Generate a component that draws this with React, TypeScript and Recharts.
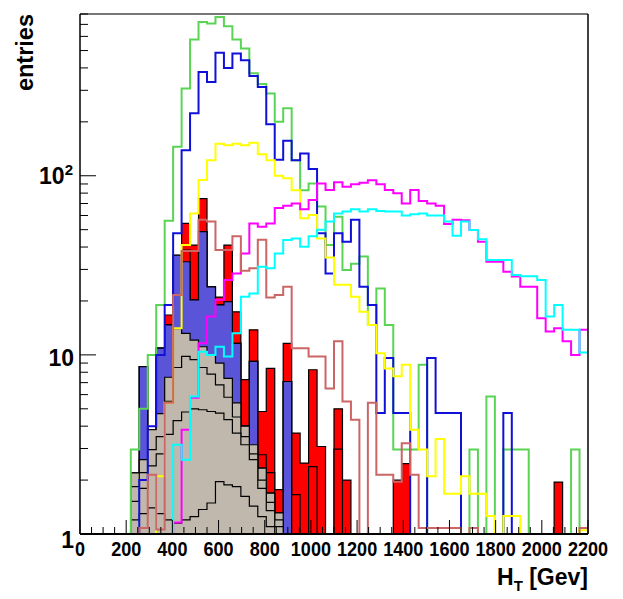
import { ComposedChart, Area, Line, XAxis, YAxis, ReferenceLine } from "recharts"

// 60 bins of 2200/60 GeV between 0 and 2200
const BIN_COUNT = 60
const X_MAX = 2200
const binWidth = X_MAX / BIN_COUNT

// stacked, filled histograms: cumulative levels (top level first)
const redTop = [0, 0, 0, 0, 0, 0, 2.19, 8.6, 3.82, 10.9, 16.7, 36, 54.2, 41, 74.6, 24, 21, 41, 17.4, 7.27, 13.8, 4.83, 8.4, 1.77, 11.6, 3.66, 2.49, 8.26, 3.08, 0, 5.0, 2.0, 0, 0, 0, 0, 0, 2.0, 2.47, 0, 0, 0, 0, 0, 0, 0, 0, 0, 0, 0, 0, 0, 0, 0, 0, 0, 1.95, 0, 0, 0]
const redMid = [0, 0, 0, 0, 0, 0, 2.19, 8.6, 3.82, 10.9, 14.7, 36, 38.5, 20.3, 48.8, 24, 19, 19.8, 11.6, 4.0, 9.2, 2.77, 2.2, 1.31, 7.1, 1.66, 0, 2.38, 0, 0, 2.98, 0, 0, 0, 0, 0, 0, 0, 0, 0, 0, 0, 0, 0, 0, 0, 0, 0, 0, 0, 0, 0, 0, 0, 0, 0, 0, 0, 0, 0]
const blueTop = [0, 0, 0, 0, 0, 0, 2.19, 8.6, 3.82, 10.9, 14.7, 36, 33.1, 20.3, 48.8, 24, 19, 19.8, 11.6, 4.0, 9.2, 2.33, 1.69, 1.31, 7.1, 0, 0, 0, 0, 0, 0, 0, 0, 0, 0, 0, 0, 0, 0, 0, 0, 0, 0, 0, 0, 0, 0, 0, 0, 0, 0, 0, 0, 0, 0, 0, 0, 0, 0, 0]
const beigeA = [0, 0, 0, 0, 0, 0, 2.19, 2.6, 3.82, 4.7, 7.5, 14, 13.2, 12.1, 11.1, 10, 9.0, 7.4, 5.4, 4.0, 3.15, 2.33, 1.69, 1.31, 0, 0, 0, 0, 0, 0, 0, 0, 0, 0, 0, 0, 0, 0, 0, 0, 0, 0, 0, 0, 0, 0, 0, 0, 0, 0, 0, 0, 0, 0, 0, 0, 0, 0, 0, 0]
const beigeB = [0, 0, 0, 0, 0, 0, 1.84, 2.2, 2.96, 3.5, 5.5, 8.5, 9.8, 9.4, 8.5, 7.8, 6.8, 5.8, 4.5, 3.5, 2.8, 2.0, 1.5, 1.2, 0, 0, 0, 0, 0, 0, 0, 0, 0, 0, 0, 0, 0, 0, 0, 0, 0, 0, 0, 0, 0, 0, 0, 0, 0, 0, 0, 0, 0, 0, 0, 0, 0, 0, 0, 0]
const beigeC = [0, 0, 0, 0, 0, 0, 1.52, 1.8, 2.4, 2.8, 3.6, 4.3, 4.8, 5.0, 4.94, 4.83, 4.73, 4.35, 3.66, 3.15, 2.6, 1.8, 1.35, 1.1, 0, 0, 0, 0, 0, 0, 0, 0, 0, 0, 0, 0, 0, 0, 0, 0, 0, 0, 0, 0, 0, 0, 0, 0, 0, 0, 0, 0, 0, 0, 0, 0, 0, 0, 0, 0]
const beigeD = [0, 0, 0, 0, 0, 0, 1.2, 1.3, 1.4, 1.3, 1.2, 1.15, 1.2, 1.25, 1.37, 1.49, 1.96, 1.88, 1.84, 1.62, 1.43, 1.25, 1.1, 0, 0, 0, 0, 0, 0, 0, 0, 0, 0, 0, 0, 0, 0, 0, 0, 0, 0, 0, 0, 0, 0, 0, 0, 0, 0, 0, 0, 0, 0, 0, 0, 0, 0, 0, 0, 0]

// line histograms
const green = [0, 0, 0, 0, 0, 0, 2.96, 5, 10, 19, 56, 145, 307, 576, 722, 709, 770, 684, 576, 514, 373, 325, 288, 200, 238, 122, 83, 90.6, 67.4, 41, 59, 29.8, 32.3, 35.4, 14.7, 23.5, 14.7, 2.96, 2.96, 2.96, 8.8, 0, 0, 0, 0, 0, 2.96, 0, 5.86, 0, 2.96, 2.96, 2.96, 0, 0, 0, 0, 0, 2.96, 0]
const blue = [0, 0, 0, 0, 0, 0, 0, 2, 4, 10, 19, 47.7, 139, 223, 380, 334, 486, 400, 482, 442, 361, 313, 194, 123, 157, 122, 133, 109, 47.7, 28.5, 47.7, 42.8, 56.9, 24, 19, 4.73, 9.6, 4.73, 4.73, 0, 0, 9.6, 4.73, 4.73, 4.73, 0, 0, 0, 0, 0, 4.73, 0, 0, 0, 0, 0, 0, 0, 0, 0]
const yellow = [0, 0, 0, 0, 0, 0, 0, 0, 0, 2.1, 5.4, 14.1, 41, 61.6, 94.6, 122, 151, 148, 151, 148, 153, 132, 122, 100, 97, 83, 58, 60.3, 44.7, 35, 24.6, 24.6, 21.1, 17.4, 14.7, 10.2, 8.4, 7.6, 8.8, 3.82, 2.96, 2.1, 3.39, 1.68, 1.68, 2.1, 1.68, 1.68, 1.26, 0, 1.26, 1.26, 0, 0, 0, 0, 0, 0, 0, 1.05]
const magenta = [0, 0, 0, 0, 0, 0, 0, 0, 0, 0, 0, 1.16, 3.82, 5.76, 11.6, 16.4, 20.3, 26.2, 28.5, 36.8, 54.2, 51.9, 54.2, 66, 68, 70.1, 65, 73.2, 90.6, 83.2, 91.9, 86.8, 89.6, 91.5, 94.4, 89.6, 83.2, 79.9, 70.1, 83.2, 72.2, 70.1, 68.1, 53.8, 56.9, 56.4, 49.8, 42.8, 33.1, 33.1, 29.1, 27.4, 24, 24, 16, 13.5, 14.1, 11.9, 10, 13.8]
const cyan = [0, 0, 0, 0, 0, 0, 0, 0, 0, 0, 0, 3.15, 2.6, 5.85, 10.4, 10, 11.1, 9.8, 13.2, 21.1, 22, 31, 30.5, 36.8, 43.8, 44.7, 40.2, 45.9, 50, 55.5, 61.6, 63.1, 65.1, 63.1, 65.1, 63.6, 63.1, 63.1, 60, 61, 61.6, 60, 60, 55.5, 46.3, 55.5, 49.8, 44.2, 33.9, 33.9, 33.9, 27.9, 27.5, 27.5, 26.2, 16.4, 19, 13.8, 13.8, 10.3]
const brown = [0, 0, 0, 0, 0, 0, 0, 1.08, 2.14, 1.06, 5.4, 21.6, 38, 38, 56.9, 55.5, 38.5, 38.5, 45.9, 29.5, 30.5, 44, 20.9, 21.6, 24, 10.9, 10.9, 9.8, 9.8, 6.5, 11.9, 5.5, 4.35, 0, 5.4, 2.14, 2.14, 1.96, 3.21, 2.14, 1.08, 1.08, 1.08, 1.08, 1.08, 0, 1.08, 0, 0, 0, 0, 0, 0, 0, 0, 0, 0, 0, 0, 1.08]

const xMajorTicks = [0, 200, 400, 600, 800, 1000, 1200, 1400, 1600, 1800, 2000, 2200]
const xMinorStep = 50
const yTicks = [1, 2, 3, 4, 5, 6, 7, 8, 9, 10, 20, 30, 40, 50, 60, 70, 80, 90, 100, 200, 300, 400, 500, 600, 700, 800]
const yMajor = [1, 10, 100]

const Y_MIN = 1
const Y_MAX = 800

const series: Record<string, number[]> = {
  redTop, redMid, blueTop, beigeA, beigeB, beigeC, beigeD,
  green, blue, yellow, magenta, cyan, brown,
}

// empty bins sit on the bottom of the log axis, like ROOT draws them
const floorLog = (v: number) => (v > Y_MIN ? v : Y_MIN)

const data = Array.from({ length: BIN_COUNT + 1 }, (_, i) => {
  const k = Math.min(i, BIN_COUNT - 1)
  const row: Record<string, number> = { x: i * binWidth }
  for (const key of Object.keys(series)) row[key] = floorLog(series[key][k])
  return row
})

const xTicks: number[] = []
for (let v = 0; v <= X_MAX; v += xMinorStep) xTicks.push(v)

const FONT = "'Liberation Sans', Arial, Helvetica, sans-serif"

const XTick = (props: any) => {
  const { x, y, payload } = props
  const v = payload.value
  const major = xMajorTicks.includes(v)
  return (
    <g>
      <line x1={x} x2={x} y1={y} y2={y - (major ? 14 : 7)} stroke="#000" strokeWidth={1} />
      {major && (
        <text
          transform={`translate(${x},${y + 22}) scale(0.86,1)`}
          textAnchor="middle"
          fontFamily={FONT}
          fontWeight="bold"
          fontSize={21}
          fill="#000"
        >
          {v}
        </text>
      )}
    </g>
  )
}

const YTick = (props: any) => {
  const { x, y, payload } = props
  const v = payload.value
  const major = yMajor.includes(v)
  let label = null
  if (v === 1) {
    label = (
      <text x={x - 6} y={y + 14} textAnchor="end" fontFamily={FONT} fontWeight="bold" fontSize={23} fill="#000">
        1
      </text>
    )
  } else if (v === 10) {
    label = (
      <text x={x - 6} y={y + 11} textAnchor="end" fontFamily={FONT} fontWeight="bold" fontSize={23} fill="#000">
        10
      </text>
    )
  } else if (v === 100) {
    label = (
      <text x={x - 7} y={y + 8} textAnchor="end" fontFamily={FONT} fontWeight="bold" fontSize={23} fill="#000">
        10
        <tspan fontSize={15} dy={-9}>2</tspan>
      </text>
    )
  }
  return (
    <g>
      <line x1={x} x2={x + (major ? 16 : 8)} y1={y} y2={y} stroke="#000" strokeWidth={1} />
      {label}
    </g>
  )
}

const XTitle = () => (
  <text x={588} y={585} textAnchor="end" fontFamily={FONT} fontWeight="bold" fontSize={23} fill="#000">
    H
    <tspan fontSize={15} dy={6}>T</tspan>
    <tspan dy={-6}> [Gev]</tspan>
  </text>
)

const YTitle = () => (
  <text
    transform="translate(33,14) rotate(-90)"
    textAnchor="end"
    fontFamily={FONT}
    fontWeight="bold"
    fontSize={23.5}
    fill="#000"
  >
    entries
  </text>
)

const RED = "#ff0000"
const BLUE_FILL = "#5954d8"
const BEIGE = "#c1b8ad"

const fills: [string, string][] = [
  ["redTop", RED],
  ["redMid", RED],
  ["blueTop", BLUE_FILL],
  ["beigeA", BEIGE],
  ["beigeB", BEIGE],
  ["beigeC", BEIGE],
  ["beigeD", BEIGE],
]

const lines: [string, string][] = [
  ["green", "#59d454"],
  ["blue", "#1010d8"],
  ["yellow", "#ffff00"],
  ["magenta", "#ff00ff"],
  ["brown", "#cc6666"],
  ["cyan", "#00ffff"],
]

export default function App() {
  return (
    <div style={{ position: "absolute", left: 0, top: 0, width: 623, height: 599, background: "#fff" }}>
      <ComposedChart width={623} height={599} data={data} margin={{ top: 14, right: 35, bottom: 64, left: 79 }}>
        <XAxis
          dataKey="x"
          type="number"
          domain={[0, X_MAX]}
          ticks={xTicks}
          interval={0}
          allowDataOverflow
          height={1}
          tickSize={0}
          tickMargin={0}
          tickLine={false}
          tick={<XTick />}
          axisLine={{ stroke: "#000", strokeWidth: 2 }}
          label={<XTitle />}
        />
        <YAxis
          type="number"
          scale="log"
          domain={[Y_MIN, Y_MAX]}
          ticks={yTicks}
          interval={0}
          allowDataOverflow
          width={1}
          tickSize={0}
          tickMargin={0}
          tickLine={false}
          tick={<YTick />}
          axisLine={{ stroke: "#000", strokeWidth: 1.5 }}
          label={<YTitle />}
        />
        {fills.map(([key, color]) => (
          <Area
            key={key}
            type="stepAfter"
            dataKey={key}
            baseValue={Y_MIN}
            stroke="#000"
            strokeWidth={1.2}
            fill={color}
            fillOpacity={1}
            dot={false}
            activeDot={false}
            isAnimationActive={false}
          />
        ))}
        {lines.map(([key, color]) => (
          <Line
            key={key}
            type="stepAfter"
            dataKey={key}
            stroke={color}
            strokeWidth={2}
            dot={false}
            activeDot={false}
            isAnimationActive={false}
          />
        ))}
        <ReferenceLine y={Y_MAX} stroke="#777" strokeWidth={2} />
        <ReferenceLine x={X_MAX} stroke="#000" strokeWidth={1.5} />
      </ComposedChart>
    </div>
  )
}
